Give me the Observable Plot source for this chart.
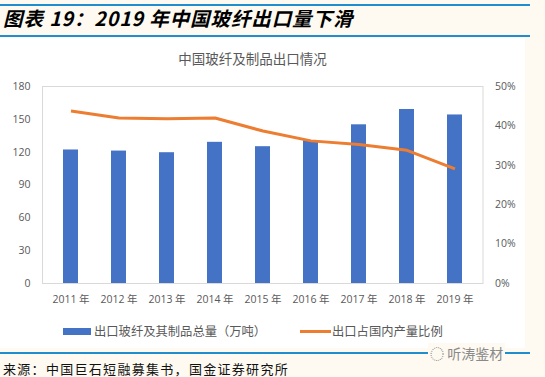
<!DOCTYPE html>
<html>
<head>
<meta charset="utf-8">
<script src="https://cdn.jsdelivr.net/npm/d3@7"></script>
<script src="https://cdn.jsdelivr.net/npm/@observablehq/plot@0.6"></script>
<style>
  html, body { margin: 0; padding: 0; }
  body { width: 545px; height: 377px; background: #FEFAF1; position: relative; overflow: hidden;
         font-family: "Noto Sans CJK SC", sans-serif; }
  .rule { position: absolute; left: 0; height: 2px; background: #1E8ECE; }
  #title { position: absolute; left: 3px; top: 3px; font-size: 19.5px; font-weight: bold; font-style: italic;
           color: #000; white-space: nowrap; letter-spacing: 0.9px; }
  #box { position: absolute; left: 0; top: 38px; width: 525px; height: 310px; background: #fff; }
  #ctitle { position: absolute; left: 0; width: 505px; top: 10px; text-align: center; font-size: 13.5px; color: #595959; }
  #chart { position: absolute; left: 0; top: 0; }
  #legend { position: absolute; top: 284px; left: 0; font-size: 12.3px; color: #595959; white-space: nowrap; }
  .li { position: absolute; top: 0; display: flex; align-items: center; height: 18px; }
  #source { position: absolute; left: 3px; top: 359px; font-size: 13px; color: #111; letter-spacing: 1.3px; white-space: nowrap;
            font-family: "Noto Sans CJK SC", serif; }
  #wm { position: absolute; left: 428px; top: 343px; font-size: 14px; color: #8a8a8a; white-space: nowrap; background: #FEFAF1; padding: 0 2px; }
</style>
</head>
<body>
<div class="rule" style="top:4px; width:530px;"></div>
<div id="title">图表 19：2019 年中国玻纤出口量下滑</div>
<div class="rule" style="top:35px; width:530px;"></div>
<div id="box">
  <div id="chart"></div>
  <div id="ctitle">中国玻纤及制品出口情况</div>
  <div id="legend">
    <div class="li" style="left:63px;"><span style="display:inline-block;width:28px;height:7px;background:#4472C4;margin-right:3px;"></span>出口玻纤及其制品总量（万吨）</div>
    <div class="li" style="left:300px;"><span style="display:inline-block;width:31px;height:3px;background:#ED7D31;margin-right:1px;"></span>出口占国内产量比例</div>
  </div>
</div>
<div class="rule" style="top:352px; width:530px;"></div>
<div id="wm">◌ 听涛鉴材</div>
<div id="source">来源：中国巨石短融募集书，国金证券研究所</div>
<script>
const years = ["2011 年","2012 年","2013 年","2014 年","2015 年","2016 年","2017 年","2018 年","2019 年"];
const exportVolume = [122, 121, 119.5, 129, 125, 130.5, 145, 159, 154];
const exportShare = [43.8, 42.0, 41.8, 42.0, 38.7, 36.2, 35.3, 33.8, 29.1];
const leftTicks = [0, 30, 60, 90, 120, 150, 180];
const rightTicks = [0, 10, 20, 30, 40, 50];

const k = 180 / 50; // percent -> left-axis units
const bars = years.map((y, i) => ({year: y, v: exportVolume[i]}));
const line = years.map((y, i) => ({year: y, p: exportShare[i] * k}));

const plot = Plot.plot({
  width: 525,
  height: 310,
  marginLeft: 42,
  marginRight: 42.5,
  marginTop: 48,
  marginBottom: 65,
  style: {background: "transparent", fontFamily: "'Open Sans', 'Noto Sans CJK SC', sans-serif", fontSize: "10.5px", color: "#595959"},
  x: {domain: years, paddingInner: 0.69, paddingOuter: 0.345, label: null},
  y: {domain: [0, 180], label: null},
  marks: [
    Plot.barY(bars, {x: "year", y: "v", fill: "#4472C4"}),
    Plot.frame({stroke: "#D9D9D9"}),
    Plot.line(line, {x: "year", y: "p", stroke: "#ED7D31", strokeWidth: 3, strokeLinecap: "butt", strokeLinejoin: "round"}),
    Plot.axisY({anchor: "left", ticks: leftTicks, tickSize: 0, tickPadding: 12, label: null, fill: "#595959"}),
    Plot.axisY({anchor: "right", ticks: rightTicks.map(p => p * k), tickFormat: d => Math.round(d / k) + "%", tickSize: 0, tickPadding: 12, label: null, fill: "#595959", textAnchor: "start"}),
    Plot.axisX({tickSize: 0, tickPadding: 12, label: null, fill: "#595959"})
  ]
});
document.getElementById("chart").appendChild(plot);
</script>
</body>
</html>
